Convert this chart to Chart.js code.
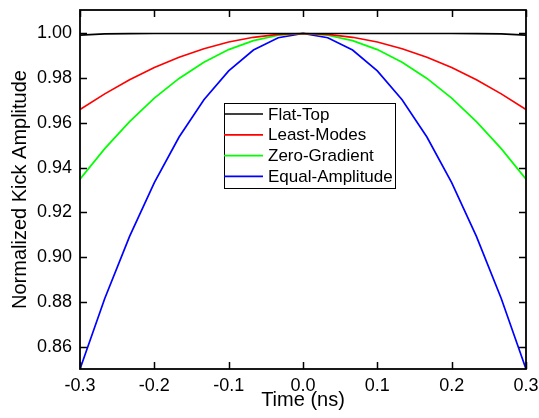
<!DOCTYPE html>
<html>
<head>
<meta charset="utf-8">
<script src="https://cdn.jsdelivr.net/npm/chart.js@4.4.1/dist/chart.umd.min.js"></script>
<style>
  html, body { margin: 0; padding: 0; background: #fff; }
  #wrap { width: 539px; height: 418px; }
</style>
</head>
<body>
<div id="wrap"><canvas id="kickChart"></canvas></div>
<script>
// time axis (ns), 19 samples
const times = [-0.3, -0.2667, -0.2333, -0.2, -0.1667, -0.1333, -0.1, -0.0667, -0.0333, 0,
               0.0333, 0.0667, 0.1, 0.1333, 0.1667, 0.2, 0.2333, 0.2667, 0.3];

const flatTop = [0.9993, 0.9998, 0.99995, 1.0, 1.0, 1.0, 1.0, 1.0, 1.0, 1.0,
                 1.0, 1.0, 1.0, 1.0, 1.0, 1.0, 0.99995, 0.9998, 0.9993];
const leastModes = [0.9660, 0.9730, 0.9793, 0.9848, 0.9894, 0.9932, 0.9962, 0.9983, 0.9996, 1.0,
                    0.9996, 0.9983, 0.9962, 0.9932, 0.9894, 0.9848, 0.9793, 0.9730, 0.9660];
const zeroGradient = [0.9349, 0.9485, 0.9606, 0.9711, 0.9799, 0.9871, 0.9928, 0.9968, 0.9992, 1.0,
                      0.9992, 0.9968, 0.9928, 0.9871, 0.9799, 0.9711, 0.9606, 0.9485, 0.9349];
const equalAmplitude = [0.8500, 0.8815, 0.9093, 0.9333, 0.9537, 0.9704, 0.9833, 0.9926, 0.9981, 1.0,
                        0.9981, 0.9926, 0.9833, 0.9704, 0.9537, 0.9333, 0.9093, 0.8815, 0.8500];

const seriesNames = ["Flat-Top", "Least-Modes", "Zero-Gradient", "Equal-Amplitude"];
const seriesColors = ["#000000", "#ff0000", "#00ff00", "#0000ff"];
const seriesValues = [flatTop, leastModes, zeroGradient, equalAmplitude];

const xTicks = [-0.3, -0.2, -0.1, 0, 0.1, 0.2, 0.3];
const yTicks = [0.86, 0.88, 0.90, 0.92, 0.94, 0.96, 0.98, 1.00];

const FONT = "'Liberation Sans', Arial, sans-serif";

const datasets = seriesNames.map((name, i) => ({
    label: name,
    data: times.map((t, j) => ({ x: t, y: seriesValues[i][j] })),
    borderColor: seriesColors[i],
    backgroundColor: seriesColors[i],
    borderWidth: 1.7,
    pointRadius: 0,
    tension: 0,
    fill: false,
}));

// inward ticks on all four sides, plus the frame
const frameTicks = {
    id: 'frameTicks',
    afterDatasetsDraw(chart) {
        const { ctx, chartArea: a, scales: { x, y } } = chart;
        const len = 7;
        ctx.save();
        ctx.strokeStyle = '#000';
        ctx.lineWidth = 1.5;
        ctx.beginPath();
        xTicks.forEach(v => {
            const px = Math.round(x.getPixelForValue(v)) + 0.5;
            ctx.moveTo(px, a.bottom); ctx.lineTo(px, a.bottom - len);
            ctx.moveTo(px, a.top); ctx.lineTo(px, a.top + len);
        });
        yTicks.forEach(v => {
            const py = Math.round(y.getPixelForValue(v)) + 0.5;
            ctx.moveTo(a.left, py); ctx.lineTo(a.left + len, py);
            ctx.moveTo(a.right, py); ctx.lineTo(a.right - len, py);
        });
        ctx.stroke();
        ctx.lineWidth = 1.8;
        ctx.strokeRect(a.left, a.top, a.right - a.left, a.bottom - a.top);
        ctx.restore();
    }
};

// boxed legend inside the plot, plus axis titles
const boxLegend = {
    id: 'boxLegend',
    afterDraw(chart) {
        const { ctx, chartArea: a } = chart;
        ctx.save();
        const bx = 224, by = 103, bw = 171, bh = 85, rowH = 20.8;
        ctx.fillStyle = '#fff';
        ctx.fillRect(bx, by, bw, bh);
        ctx.strokeStyle = '#000';
        ctx.lineWidth = 1;
        ctx.strokeRect(bx + 0.5, by + 0.5, bw, bh);
        ctx.font = '17px ' + FONT;
        ctx.textBaseline = 'middle';
        chart.data.datasets.forEach((ds, i) => {
            const cy = by + 11 + i * rowH;
            ctx.strokeStyle = ds.borderColor;
            ctx.lineWidth = 1.7;
            ctx.beginPath();
            ctx.moveTo(bx, cy); ctx.lineTo(bx + 39, cy);
            ctx.stroke();
            ctx.fillStyle = '#000';
            ctx.fillText(ds.label, bx + 44, cy + 1);
        });

        ctx.fillStyle = '#000';
        ctx.textAlign = 'center';
        ctx.textBaseline = 'alphabetic';
        ctx.font = '20px ' + FONT;
        ctx.fillText('Time (ns)', (a.left + a.right) / 2, 406);
        ctx.translate(25.5, (a.top + a.bottom) / 2);
        ctx.rotate(-Math.PI / 2);
        ctx.fillText('Normalized Kick Amplitude', 0, 0);
        ctx.restore();
    }
};

new Chart(document.getElementById('kickChart'), {
    type: 'line',
    data: { datasets },
    options: {
        responsive: true,
        maintainAspectRatio: false,
        animation: false,
        events: [],
        layout: { padding: { top: 10, right: 13, left: 0, bottom: 0 } },
        plugins: { legend: { display: false }, tooltip: { enabled: false } },
        scales: {
            x: {
                type: 'linear',
                min: -0.3,
                max: 0.3,
                afterBuildTicks: s => { s.ticks = xTicks.map(v => ({ value: v })); },
                afterFit: s => { s.height = 49; s.paddingLeft = 0; s.paddingRight = 0; },
                grid: { display: false, drawTicks: false },
                border: { display: false },
                ticks: {
                    padding: 6,
                    color: '#000',
                    font: { family: FONT, size: 18 },
                    maxRotation: 0,
                    callback: v => v.toFixed(1),
                },
            },
            y: {
                type: 'linear',
                min: 0.85,
                max: 1.0105,
                afterBuildTicks: s => { s.ticks = yTicks.map(v => ({ value: v })); },
                afterFit: s => { s.width = 80; s.paddingTop = 0; s.paddingBottom = 0; },
                grid: { display: false, drawTicks: false },
                border: { display: false },
                ticks: {
                    padding: 8,
                    color: '#000',
                    font: { family: FONT, size: 18 },
                    callback: v => v.toFixed(2),
                },
            },
        },
    },
    plugins: [frameTicks, boxLegend],
});
</script>
</body>
</html>
